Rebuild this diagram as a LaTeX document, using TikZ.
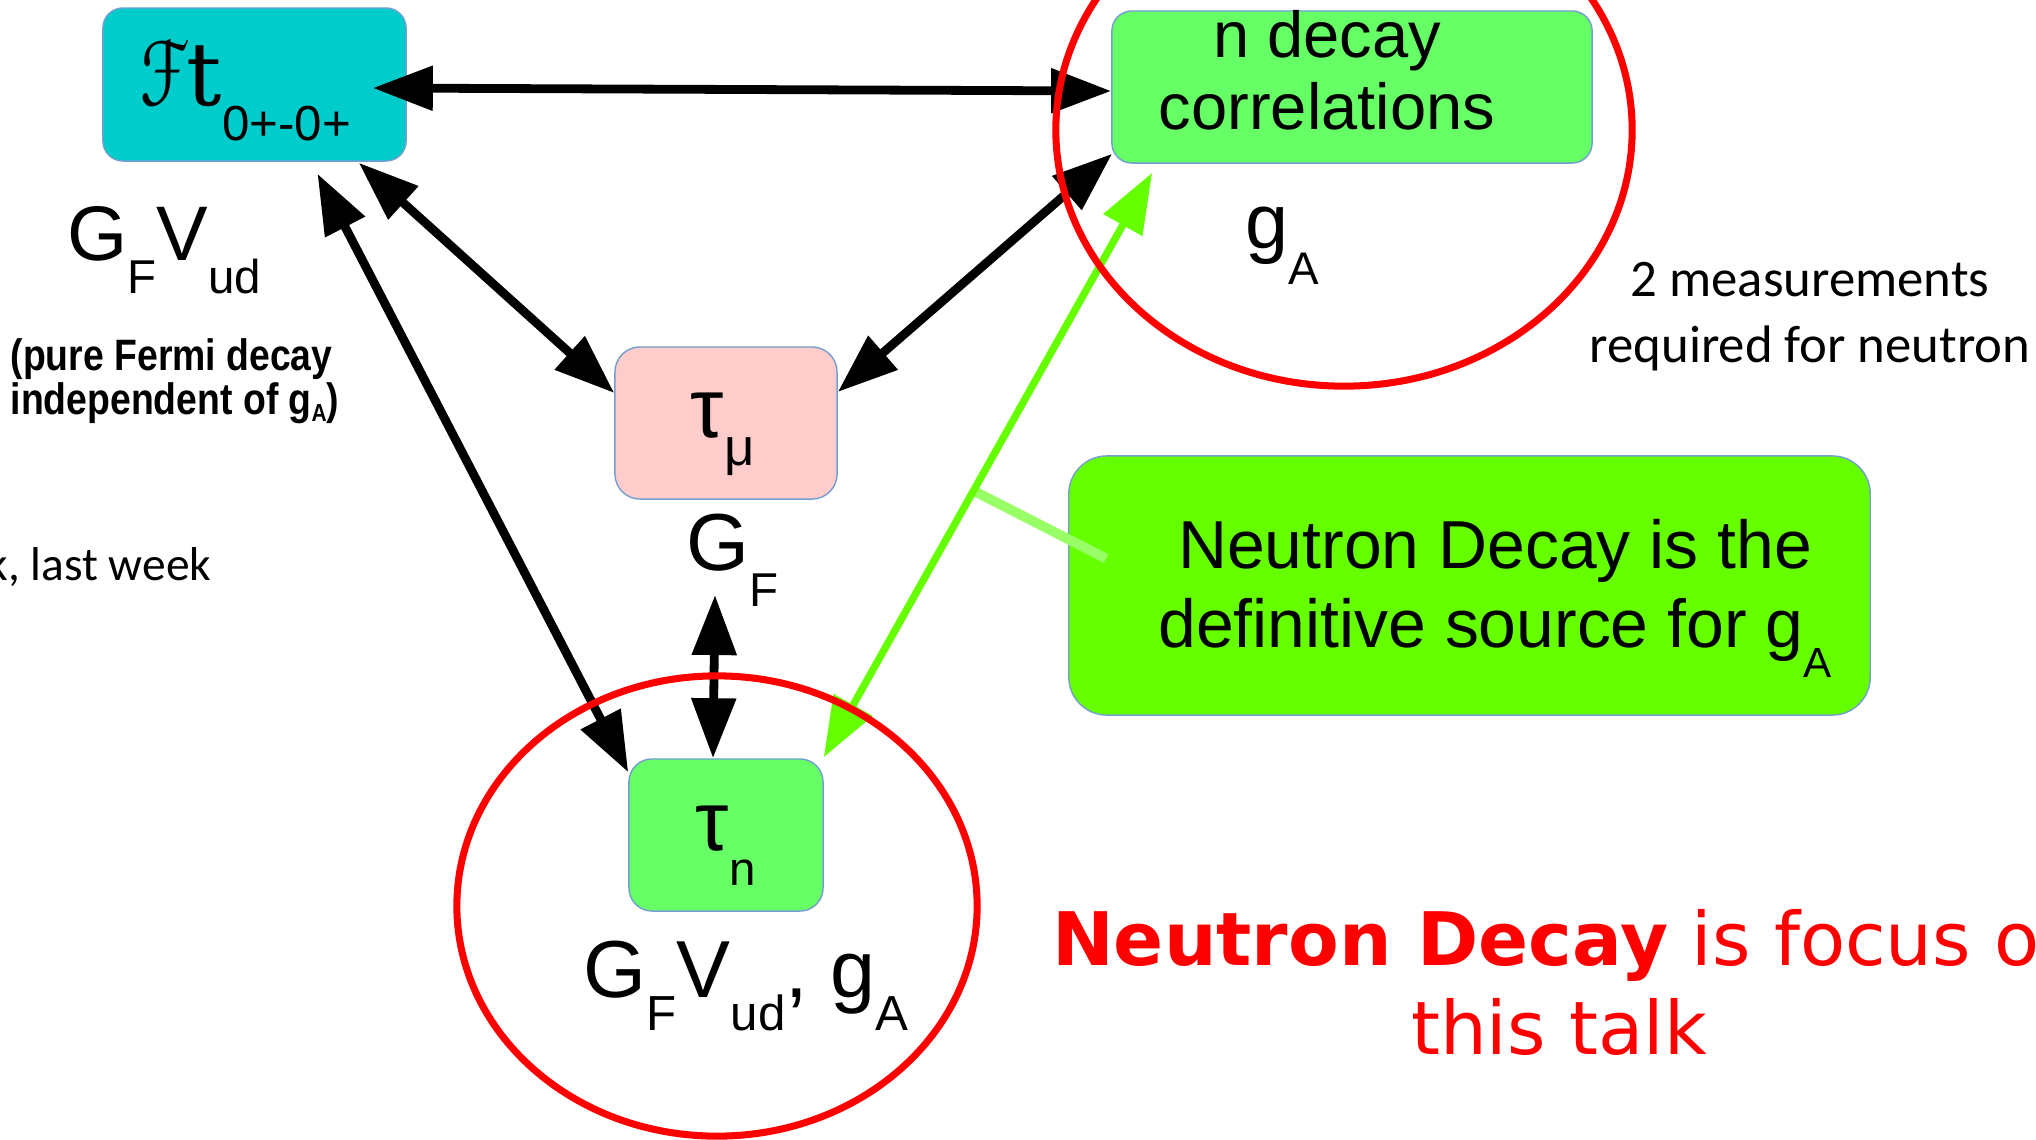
\documentclass[tikz,border=0pt]{standalone}
\usepackage{fontspec}
\usepackage{graphicx}
\setmainfont{Liberation Sans}
\newfontfamily\calibfont{Carlito}
\newfontfamily\dvfont{DejaVu Sans}
\newfontfamily\dvseriffont{DejaVu Serif}
\newfontfamily\narrowfont[FakeStretch=0.85]{Liberation Sans}
\usetikzlibrary{arrows.meta, calc}
\definecolor{ftCyan}{RGB}{0,204,204}
\definecolor{nGreen}{RGB}{102,255,102}
\definecolor{muPink}{RGB}{255,204,204}
\definecolor{srcLime}{RGB}{102,255,0}
\definecolor{tailGreen}{RGB}{153,255,102}
\definecolor{boxEdge}{RGB}{114,159,207}
\definecolor{ringRed}{RGB}{255,0,0}
% lowered subscript: drop, size, text
\newcommand{\lowsub}[3]{\raisebox{-#1}{\fontsize{#2}{#2}\selectfont #3}}
\tikzset{
    box/.style={
        rounded corners=0.2cm, draw=boxEdge, line width=0.4pt, inner sep=0pt
    },
    sym/.style={font=\fontsize{22pt}{26pt}\selectfont, inner sep=0pt, anchor=base west},
    para/.style={inner sep=0pt, anchor=base, align=center},
    link/.style={{Triangle[length=6mm,width=4.3mm]}-{Triangle[length=6mm,width=4.3mm]},
        line width=2.5pt, draw=black},
    glink/.style={{Triangle[length=6mm,width=4.3mm]}-{Triangle[length=6mm,width=4.3mm]},
        line width=2.1pt, draw=srcLime},
    tail/.style={line width=2.8pt, draw=tailGreen},
    ring/.style={draw=ringRed, line width=2pt}
}

\begin{document}
\begin{tikzpicture}[x=0.01cm, y=-0.01cm]
      \fill[white] (0,0) rectangle (2036,1139);
      \useasboundingbox (0,0) rectangle (2036,1139);
      \node[box, fill=ftCyan, minimum width=3.03cm, minimum height=1.53cm] (ft) at (254.5,84.5) {};
      \node[box, fill=nGreen, minimum width=4.8cm, minimum height=1.52cm] (ndec) at (1352,87) {};
      \node[box, fill=muPink, rounded corners=0.25cm, minimum width=2.22cm, minimum height=1.52cm] (tmu) at (726,423) {};
      \node[box, fill=nGreen, rounded corners=0.23cm, minimum width=1.94cm, minimum height=1.52cm] (tn) at (726,835) {};
      \node[box, fill=srcLime, rounded corners=0.38cm, minimum width=8.01cm, minimum height=2.59cm] (src) at (1469.5,585.5) {};
      \node[sym, font=\fontsize{25pt}{28pt}\selectfont] (ftTxt) at (140,105) {\scalebox{0.72}[1]{\dvfont ℱ}\kern-1pt{\dvseriffont t}\lowsub{10pt}{14pt}{0+-0+}};
      \node[sym] (gfvLeft) at (67,260) {G\lowsub{9.4pt}{13.5pt}{F}V\lowsub{9.4pt}{13.5pt}{ud}};
      \node[inner sep=0pt, anchor=base west, align=left, font=\narrowfont\bfseries\fontsize{12.5pt}{12.5pt}\selectfont] (fermi) at (10,414) {(pure Fermi decay\\independent of g\lowsub{2pt}{7pt}{A})};
      \node[sym, font=\fontsize{24pt}{28pt}\selectfont] (tmuTxt) at (690,437) {τ\lowsub{8pt}{15pt}{μ}};
      \node[sym, font=\fontsize{23pt}{27pt}\selectfont] (gfmu) at (686,570) {G\lowsub{10.5pt}{13.5pt}{F}};
      \node[sym, font=\fontsize{24pt}{28pt}\selectfont] (tnTxt) at (695,850) {τ\lowsub{10pt}{13.5pt}{n}};
      \node[sym, font=\fontsize{23pt}{27pt}\selectfont] (gfvBot) at (583,997) {G\lowsub{9.4pt}{14pt}{F}V\lowsub{9.4pt}{14pt}{ud}, g\lowsub{9.4pt}{14pt}{A}};
      \node[para, font=\fontsize{18.5pt}{20.2pt}\selectfont] (ndecTxt) at (1327,129) {n decay\\correlations};
      \node[sym] (gaTxt) at (1245,248) {g\lowsub{10.5pt}{13pt}{A}};
      \node[para, font=\calibfont\fontsize{15pt}{18.5pt}\selectfont] (twoMeas) at (1810,362) {2 measurements\\required for neutron};
      \node[inner sep=0pt, anchor=base east, font=\calibfont\fontsize{13.5pt}{16pt}\selectfont] (lastWk) at (212,580) {k, last week};
      \node[para, font=\fontsize{19.3pt}{22.2pt}\selectfont] (srcTxt) at (1495,647) {Neutron Decay is the\\definitive source for g\lowsub{8.8pt}{12pt}{A}};
      \node[para, text=ringRed, font=\dvfont\fontsize{21pt}{25.3pt}\selectfont] (focus) at (1559,1054) {\textbf{Neutron Decay} is focus of\\this talk};
      \coordinate (grnTop) at ($(ndec.south west)+(41,9)$);
      \coordinate (grnBot) at ($(tn.north east)+(0,-1)$);
      \draw[tail] ($(grnBot)!0.456!(grnTop)$) -- ($(src.west)+(38,-27)$);
      \draw[link] ($(ft.east)+(-34,3.5)$) -- ($(ndec.west)+(0,4)$);
      \draw[link] ($(ft.south east)+(-48,1)$) -- ($(tmu.west)+(0,-30)$);
      \draw[link] ($(ft.south)+(63,12)$) -- ($(tn.north west)+(0,14)$);
      \draw[link] ($(ndec.south west)+(1,-10)$) -- ($(tmu.east)+(0,-31)$);
      \draw[link] ($(gfmu.base west)+(29,25)$) -- ($(tn.north)+(-13,0)$);
      \draw[glink] (grnBot) -- (grnTop);
      \draw[ring] (1344,130) ellipse [x radius=2.88cm, y radius=2.56cm];
      \draw[ring] (717,906) ellipse [x radius=2.6cm, y radius=2.3cm];
    \end{tikzpicture}
\end{document}
